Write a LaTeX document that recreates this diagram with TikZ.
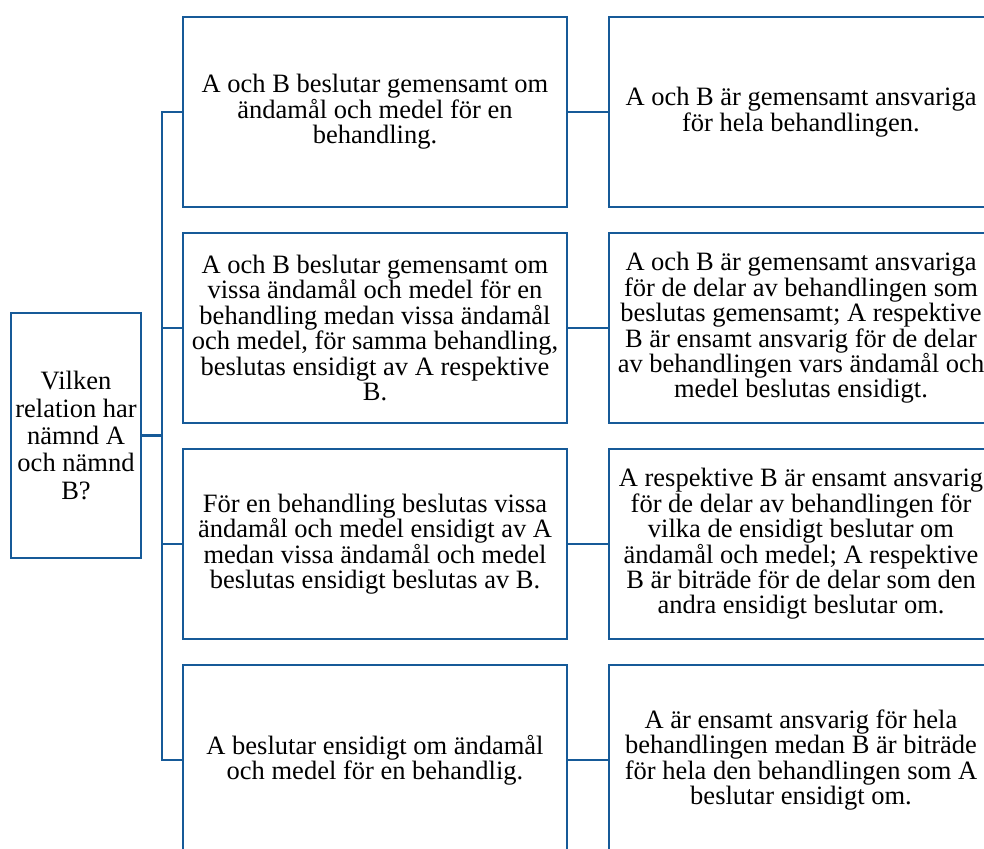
\documentclass[tikz,border=0pt]{standalone}
\usepackage{fontspec}
\setmainfont{Liberation Serif}
\definecolor{lineblue}{RGB}{22,90,152}
\begin{document}
\begin{tikzpicture}[x=1pt,y=-1pt,
  box/.style={draw=lineblue,line width=2.9pt,fill=white,align=center,inner sep=0pt,
    font=\fontsize{26.5}{25.4}\selectfont},
  midbox/.style={box,minimum width=384,minimum height=190},
  link/.style={draw=lineblue,line width=2.9pt}]
\useasboundingbox (0,0) rectangle (984,848);
\clip (0,0) rectangle (984,848);
\coordinate (trunk) at (162,0);
\node[box,minimum width=130,minimum height=245,font=\fontsize{26.5}{27.3}\selectfont] (L) at (76,435.5)
  {Vilken\\relation har\\nämnd A\\och nämnd\\B?};
\node[midbox] (m1) at (375,112) {A och B beslutar gemensamt om\\ändamål och medel för en\\behandling.};
\node[midbox] (m2) at (375,328) {A och B beslutar gemensamt om\\vissa ändamål och medel för en\\behandling medan vissa ändamål\\och medel, för samma behandling,\\beslutas ensidigt av A respektive\\B.};
\node[midbox] (m3) at (375,544) {För en behandling beslutas vissa\\ändamål och medel ensidigt av A\\medan vissa ändamål och medel\\beslutas ensidigt beslutas av B.};
\node[midbox] (m4) at (375,760) {A beslutar ensidigt om ändamål\\och medel för en behandlig.};
\node[midbox] (r1) at (801,112) {A och B är gemensamt ansvariga\\för hela behandlingen.};
\node[midbox] (r2) at (801,328) {A och B är gemensamt ansvariga\\för de delar av behandlingen som\\beslutas gemensamt; A respektive\\B är ensamt ansvarig för de delar\\av behandlingen vars ändamål och\\medel beslutas ensidigt.};
\node[midbox] (r3) at (801,544) {A respektive B är ensamt ansvarig\\för de delar av behandlingen för\\vilka de ensidigt beslutar om\\ändamål och medel; A respektive\\B är biträde för de delar som den\\andra ensidigt beslutar om.};
\node[midbox] (r4) at (801,760) {A är ensamt ansvarig för hela\\behandlingen medan B är biträde\\för hela den behandlingen som A\\beslutar ensidigt om.};
\draw[link] (L.east) -- (L.east -| trunk);
\draw[link] (m1.west) -- (m1.west -| trunk) -- (m4.west -| trunk) -- (m4.west);
\draw[link] (m2.west) -- (m2.west -| trunk);
\draw[link] (m3.west) -- (m3.west -| trunk);
\foreach \i in {1,2,3,4} {\draw[link] (m\i.east) -- (r\i.west);}
\end{tikzpicture}
\end{document}
